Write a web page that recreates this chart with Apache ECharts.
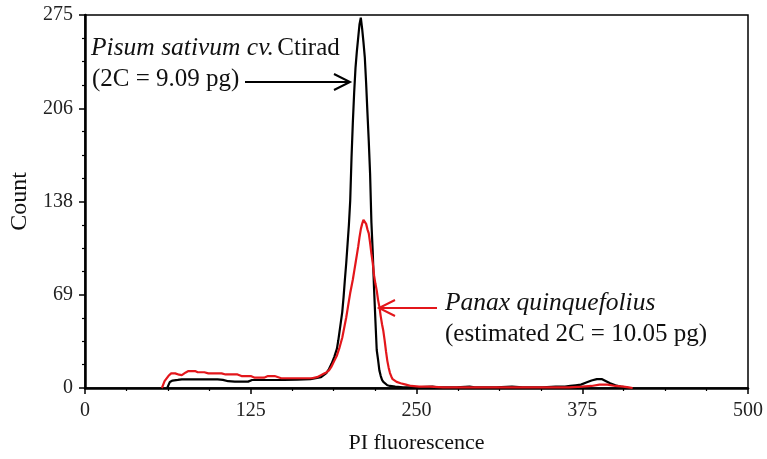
<!DOCTYPE html>
<html>
<head>
<meta charset="utf-8">
<script src="https://cdn.jsdelivr.net/npm/echarts@6/dist/echarts.min.js"></script>
<style>
html,body{margin:0;padding:0;background:#fff;}
#c{width:767px;height:459px;}
</style>
</head>
<body>
<div id="c"></div>
<script>
// ---- data ----
const xTicks = [0, 125, 250, 375, 500];
const yTickLabels = [0, 69, 138, 206, 275];

const pisumX = [62,64,66,70,73,80,90,100,104,108,113,118,123,126,135,143,150,160,170,175,178,180,182,184,186,188,190,191,192,193,194,195,196,197,198,199,200,201,202,203,204,205,206,207,208,209,210,211,212,213,214,215,216,217,218,219,220,221,222,223,224,225,226,228,230,234,240,250,262,266,280,290,294,310,322,330,345,355,362,366,370,374,378,382,386,390,393,396,400,404,408,410];
const pisumY = [0,4.5,5.5,6,6.4,6.4,6.4,6.4,6,5,4.7,4.7,4.7,5.9,5.9,5.9,6,6.2,6.5,7.5,8,9.5,11,14,18,23,29,35,42,49,56,67,80,92,106,120,138,170,196,218,236,248,258,268,273,265,255,244,225,203,182,158,122,100,73,50,28,21,13,9,6,4.5,3.5,2,1.5,1,0.5,0.5,1,0.5,0.5,1,0.5,0.5,1,0.5,0.5,1,1,1.5,2,2.5,4,5.5,6.5,6.5,5,3.5,2,1,0.5,0];

const panaxX = [58,60,63,65,68,71,73,76,78,83,85,90,93,103,106,115,118,125,128,135,138,143,148,160,171,175,178,180,182,184,186,188,190,192,194,195,196,197,198,199,200,201,202,203,204,205,206,207,208,209,210,211,212,213,214,215,216,217,218,219,220,221,222,223,224,225,226,227,228,229,230,231,232,233,235,238,242,246,252,260,270,300,330,350,365,375,382,388,394,400,406,410,413];
const panaxY = [0,5,9,10.8,10.8,9.8,9.5,11.5,12.5,12.5,11.6,11.6,10.8,10.8,10,10,8.8,8.8,7.6,7.6,8.8,8.8,7.2,7.2,7.2,8,9.5,10.5,11.5,13,16,20,24,30,37,42,47,52,58,64,70,75,80,86,92,98,104,111,117,121,124,125,121,117,114,107,99,92,83,77,72,65,60,53,47,42,35,27,20,15,11,8.5,6.5,5.5,4.5,3.5,2.5,1.5,1,1,0.5,0.5,0.5,0.5,0.5,1,1.5,2.5,2.5,1.5,1,0.5,0];

const xName = 'PI fluorescence';
const yName = 'Count';

const pair = (xs, ys) => xs.map((x, i) => [x, ys[i]]);
const SERIF = '"Liberation Serif","DejaVu Serif",serif';

const chart = echarts.init(document.getElementById('c'));
chart.setOption({
  animation: false,
  backgroundColor: '#fff',
  grid: { left: 85, right: 19, top: 15, bottom: 71, show: true, borderColor: '#000', borderWidth: 1.5, backgroundColor: 'transparent' },
  xAxis: {
    type: 'value', min: xTicks[0], max: xTicks[xTicks.length-1], interval: xTicks[1]-xTicks[0],
    axisLine: { lineStyle: { color: '#000', width: 2.5 } },
    axisTick: { show: true, length: 6, lineStyle: { color: '#000', width: 1.5 } },
    minorTick: { show: true, splitNumber: 4, length: 3, lineStyle: { color: '#000', width: 1.2 } },
    splitLine: { show: false },
    axisLabel: { fontFamily: SERIF, fontSize: 20, color: '#222', margin: 13 },
    name: xName, nameLocation: 'middle', nameGap: 44,
    nameTextStyle: { fontFamily: SERIF, fontSize: 22, color: '#111' }
  },
  yAxis: {
    type: 'value', min: 0, max: yTickLabels[yTickLabels.length-1], interval: yTickLabels[yTickLabels.length-1]/4,
    axisLine: { show: true, lineStyle: { color: '#000', width: 2.5 } },
    axisTick: { show: true, length: 6, lineStyle: { color: '#000', width: 1.5 } },
    minorTick: { show: true, splitNumber: 4, length: 3, lineStyle: { color: '#000', width: 1.2 } },
    splitLine: { show: false },
    axisLabel: { fontFamily: SERIF, fontSize: 20, color: '#222', margin: 12,
      formatter: v => { const i = Math.round(v / (yTickLabels[yTickLabels.length-1]/4)); return String(yTickLabels[i]); } },
    name: yName, nameLocation: 'middle', nameGap: 50,
    nameTextStyle: { fontFamily: SERIF, fontSize: 24, color: '#111' }
  },
  series: [
    { name: 'Pisum sativum', type: 'line', data: pair(pisumX, pisumY), showSymbol: false, symbol: 'none',
      lineStyle: { color: '#000', width: 2.2 }, z: 2 },
    { name: 'Panax quinquefolius', type: 'line', data: pair(panaxX, panaxY), showSymbol: false, symbol: 'none',
      lineStyle: { color: '#e3161b', width: 2.2 }, z: 3 }
  ],
  graphic: [
    { type: 'text', left: 91, top: 35, style: {
        text: '{i|Pisum sativum cv.} {n|Ctirad}',
        rich: { i: { fontFamily: SERIF, fontStyle: 'italic', fontSize: 25.5, fill: '#111' },
                n: { fontFamily: SERIF, fontSize: 25, fill: '#111' } } } },
    { type: 'text', left: 92, top: 67, style: { text: '(2C = 9.09 pg)', font: '25px "Liberation Serif", serif', fill: '#111' } },
    { type: 'line', shape: { x1: 245, y1: 82, x2: 349, y2: 82 }, style: { stroke: '#000', lineWidth: 2 } },
    { type: 'polyline', shape: { points: [[334, 74], [350, 82], [334, 90]] }, style: { stroke: '#000', lineWidth: 2, fill: null } },
    { type: 'line', shape: { x1: 381, y1: 308, x2: 437, y2: 308 }, style: { stroke: '#e3161b', lineWidth: 2 } },
    { type: 'polyline', shape: { points: [[395, 300], [379, 308], [395, 316]] }, style: { stroke: '#e3161b', lineWidth: 2, fill: null } },
    { type: 'text', left: 445, top: 290, style: { text: 'Panax quinquefolius', font: 'italic 25.5px "Liberation Serif", serif', fill: '#111' } },
    { type: 'text', left: 445, top: 322, style: { text: '(estimated 2C = 10.05 pg)', font: '25px "Liberation Serif", serif', fill: '#111' } }
  ]
});
</script>
</body>
</html>
